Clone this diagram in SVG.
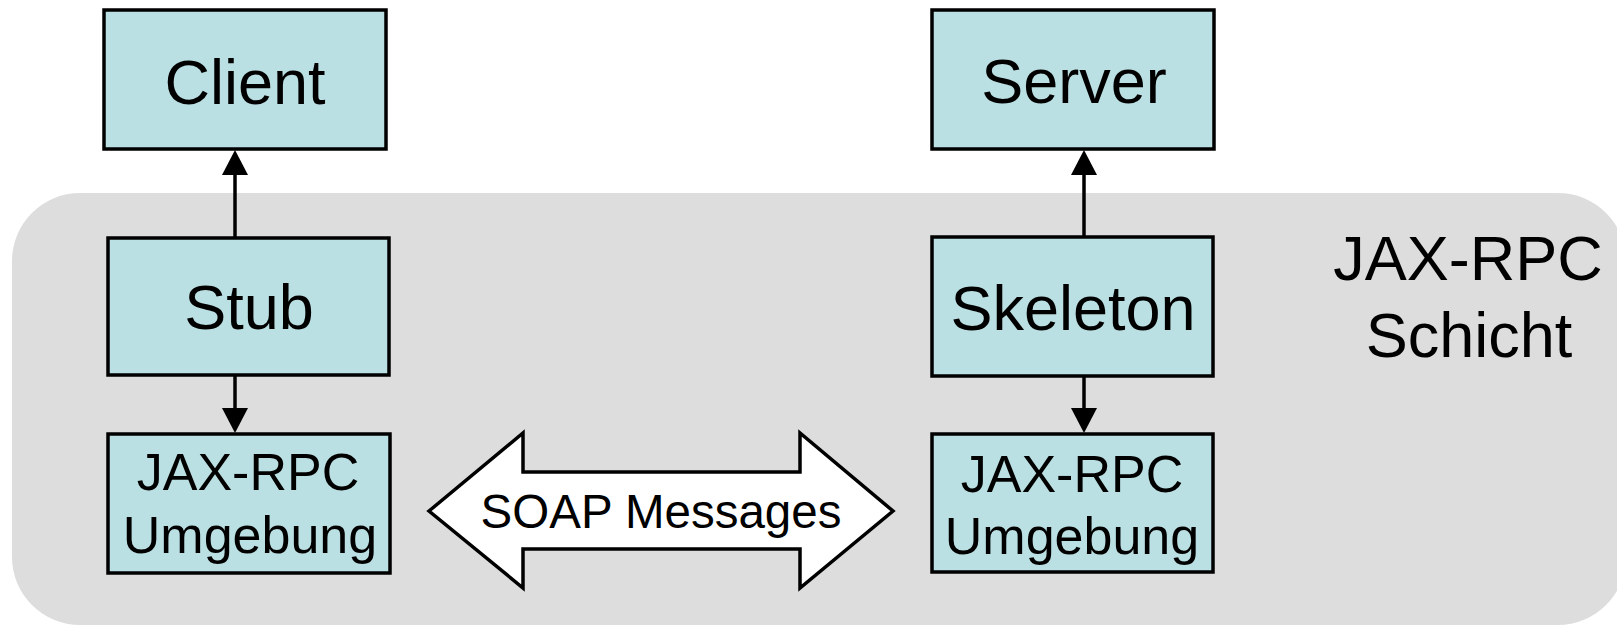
<svg xmlns="http://www.w3.org/2000/svg" width="1617" height="628" viewBox="0 0 1617 628">
  <style>
    .box { fill: #bbe0e3; stroke: #000; stroke-width: 3.5; }
    .lbl { font-family: "Liberation Sans", Arial, sans-serif; fill: #000; text-anchor: middle; }
    .big { font-size: 63px; }
    .small { font-size: 52px; }
    .conn { stroke: #000; stroke-width: 3.5; fill: none; marker-end: url(#head); }
  </style>
  <defs>
    <marker id="head" viewBox="0 0 25 26" refX="2" refY="13" markerWidth="25" markerHeight="26" markerUnits="userSpaceOnUse" orient="auto">
      <path d="M0,0 L25,13 L0,26 Z" fill="#000"/>
    </marker>
  </defs>

  <!-- JAX-RPC layer background -->
  <g id="layer">
    <rect x="12" y="193" width="1614" height="432" rx="68" ry="68" fill="#dddddd"/>
    <text class="lbl big" x="1468" y="280">JAX-RPC</text>
    <text class="lbl big" x="1469" y="357">Schicht</text>
  </g>

  <!-- connectors -->
  <g id="connectors">
    <line class="conn" x1="235" y1="238" x2="235" y2="173"/>
    <line class="conn" x1="235" y1="375" x2="235" y2="410"/>
    <line class="conn" x1="1084" y1="237" x2="1084" y2="173"/>
    <line class="conn" x1="1084" y1="376" x2="1084" y2="410"/>
  </g>

  <g id="client">
    <rect class="box" x="104" y="10" width="282" height="139"/>
    <text class="lbl big" x="245" y="104">Client</text>
  </g>
  <g id="stub">
    <rect class="box" x="108" y="238" width="281" height="137"/>
    <text class="lbl big" x="249" y="329">Stub</text>
  </g>
  <g id="env-client">
    <rect class="box" x="108" y="434" width="282" height="139"/>
    <text class="lbl small" x="248" y="490">JAX-RPC</text>
    <text class="lbl small" x="250" y="553">Umgebung</text>
  </g>

  <g id="server">
    <rect class="box" x="932" y="10" width="282" height="139"/>
    <text class="lbl big" x="1074" y="103">Server</text>
  </g>
  <g id="skeleton">
    <rect class="box" x="932" y="237" width="281" height="139"/>
    <text class="lbl big" x="1073" y="330">Skeleton</text>
  </g>
  <g id="env-server">
    <rect class="box" x="932" y="434" width="281" height="138"/>
    <text class="lbl small" x="1072" y="492">JAX-RPC</text>
    <text class="lbl small" x="1072" y="554">Umgebung</text>
  </g>

  <!-- double-headed message arrow -->
  <g id="soap">
    <path d="M429,511 L523,433 L523,472 L800,472 L800,433 L893,511 L800,588 L800,549 L523,549 L523,588 Z" fill="#fff" stroke="#000" stroke-width="3.5" stroke-linejoin="miter"/>
    <text class="lbl" style="font-size:47.5px" x="661" y="528">SOAP Messages</text>
  </g>
</svg>
